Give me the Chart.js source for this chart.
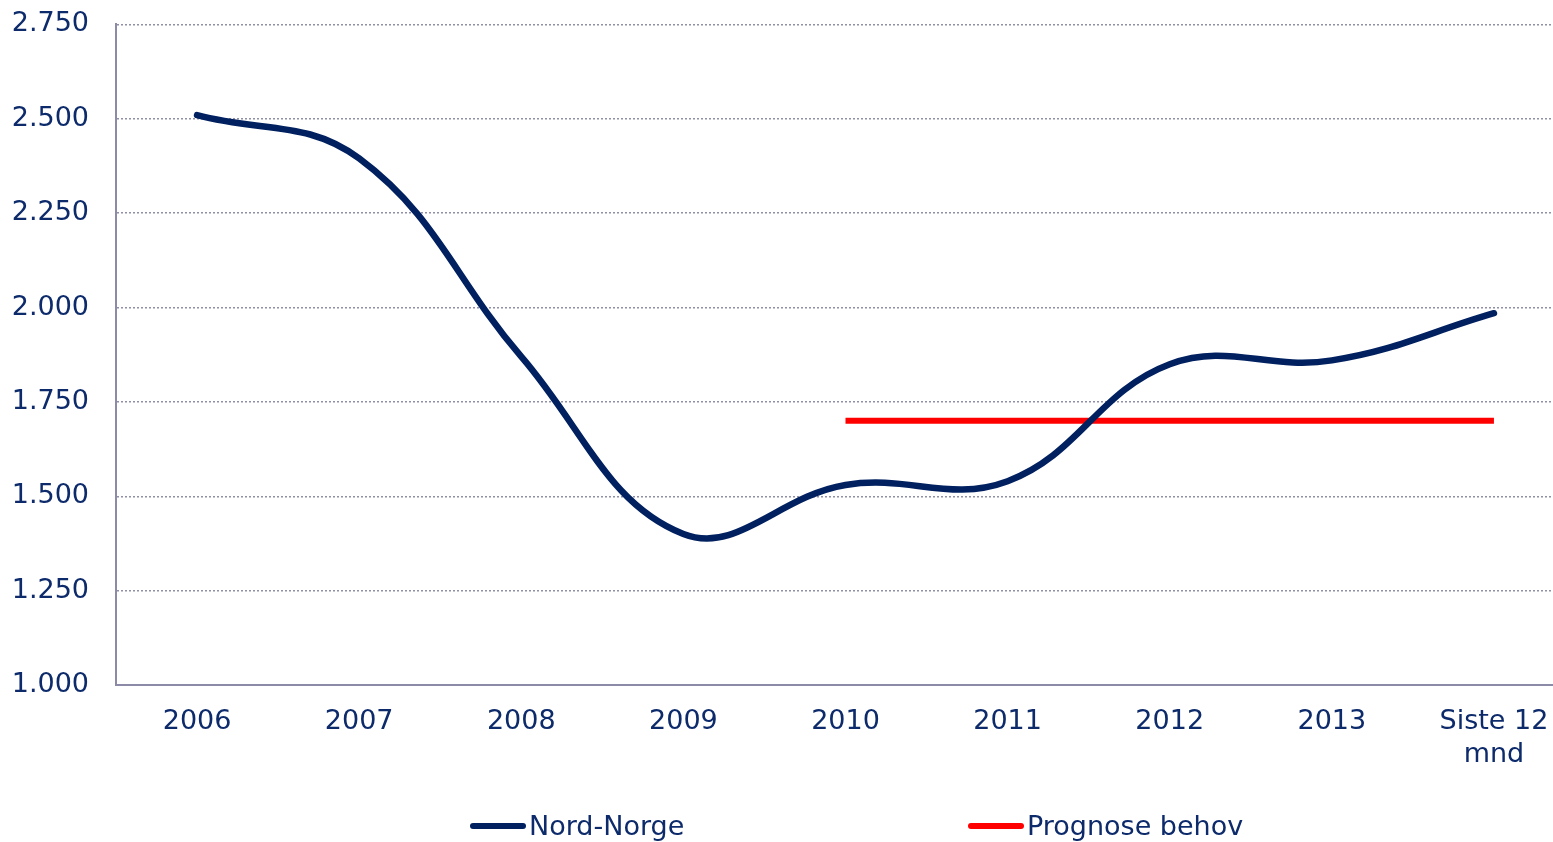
<!DOCTYPE html>
<html lang="no">
  <head>
    <meta charset="UTF-8" />
    <title>Nord-Norge</title>
    <style>
      html, body {
        margin: 0;
        padding: 0;
        background: #fff;
        overflow: hidden;
      }
      .wrap {
        position: relative;
        width: 1553px;
        height: 842px;
        overflow: hidden;
      }
      #chart {
        position: absolute;
        left: 0;
        top: -19px;
      }
      #legend {
        position: absolute;
        left: 0;
        top: 810px;
        width: 1553px;
        height: 36px;
        font-family: "DejaVu Sans", Verdana, sans-serif;
        font-size: 27px;
        color: #0d2b6b;
      }
      .item {
        position: absolute;
        top: 0;
        display: flex;
        align-items: center;
        white-space: nowrap;
      }
      .mark {
        display: inline-block;
        width: 56px;
        height: 6px;
        border-radius: 3px;
        margin-right: 3px;
      }
    </style>
    <script src="https://cdn.jsdelivr.net/npm/chart.js"></script>
  </head>
  <body>
    <div class="wrap">
      <!-- plot area runs a little past the right edge, as in the original -->
      <canvas id="chart" width="1575" height="861"></canvas>
      <div id="legend"></div>
    </div>

    <script>
      const categories = ["2006", "2007", "2008", "2009", "2010", "2011", "2012", "2013", ["Siste 12", "mnd"]];
      const nordNorge = [2510, 2395, 1870, 1400, 1530, 1540, 1850, 1860, 1985];
      const prognoseBehov = [null, null, null, null, 1700, 1700, 1700, 1700, 1700];
      const yTicks = [1000, 1250, 1500, 1750, 2000, 2250, 2500, 2750];

      const navy = "#002060";
      const textColor = "#0d2b6b";
      const font = { family: "'DejaVu Sans', Verdana, sans-serif", size: 27, lineHeight: 1.22 };

      function fmt(v) {
        return String(v).replace(/\B(?=(\d{3})+(?!\d))/g, ".");
      }

      const ctx = document.getElementById("chart").getContext("2d");
      const chart = new Chart(ctx, {
        type: "line",
        data: {
          labels: categories,
          datasets: [
            {
              label: "Nord-Norge",
              data: nordNorge,
              borderColor: navy,
              backgroundColor: navy,
              borderWidth: 6.5,
              borderCapStyle: "round",
              pointRadius: 0,
              tension: 0.4,
            },
            {
              label: "Prognose behov",
              data: prognoseBehov,
              borderColor: "#ff0000",
              backgroundColor: "#ff0000",
              borderWidth: 6,
              borderCapStyle: "butt",
              pointRadius: 0,
              tension: 0,
            },
          ],
        },
        options: {
          responsive: false,
          animation: false,
          layout: {
            padding: { left: 13, right: 0, top: 6, bottom: 0 },
          },
          plugins: {
            legend: { display: false },
            tooltip: { enabled: false },
          },
          scales: {
            x: {
              offset: true,
              grid: { display: false, drawTicks: false },
              border: { color: "#8b8ba8", width: 2 },
              ticks: {
                color: textColor,
                font: font,
                padding: 21,
                maxRotation: 0,
                autoSkip: false,
              },
              afterFit: (axis) => {
                axis.height = 157;
              },
            },
            y: {
              min: 1000,
              max: 2750,
              afterBuildTicks: (axis) => {
                axis.ticks = yTicks.map((v) => ({ value: v }));
              },
              afterFit: (axis) => {
                axis.width = 103;
              },
              grid: {
                color: "#8f8fa8",
                lineWidth: 1.5,
                drawTicks: false,
              },
              border: { color: "#8b8ba8", width: 2, dash: [2, 2] },
              ticks: {
                color: textColor,
                font: font,
                padding: 27,
                callback: (v) => fmt(v),
              },
            },
          },
        },
      });

      // legend built from the datasets
      const legend = document.getElementById("legend");
      const lefts = [470, 968];
      chart.data.datasets.forEach((ds, i) => {
        const item = document.createElement("div");
        item.className = "item";
        item.style.left = lefts[i] + "px";
        const mark = document.createElement("span");
        mark.className = "mark";
        mark.style.background = ds.borderColor;
        const label = document.createElement("span");
        label.textContent = ds.label;
        item.appendChild(mark);
        item.appendChild(label);
        legend.appendChild(item);
      });
    </script>
  </body>
</html>
